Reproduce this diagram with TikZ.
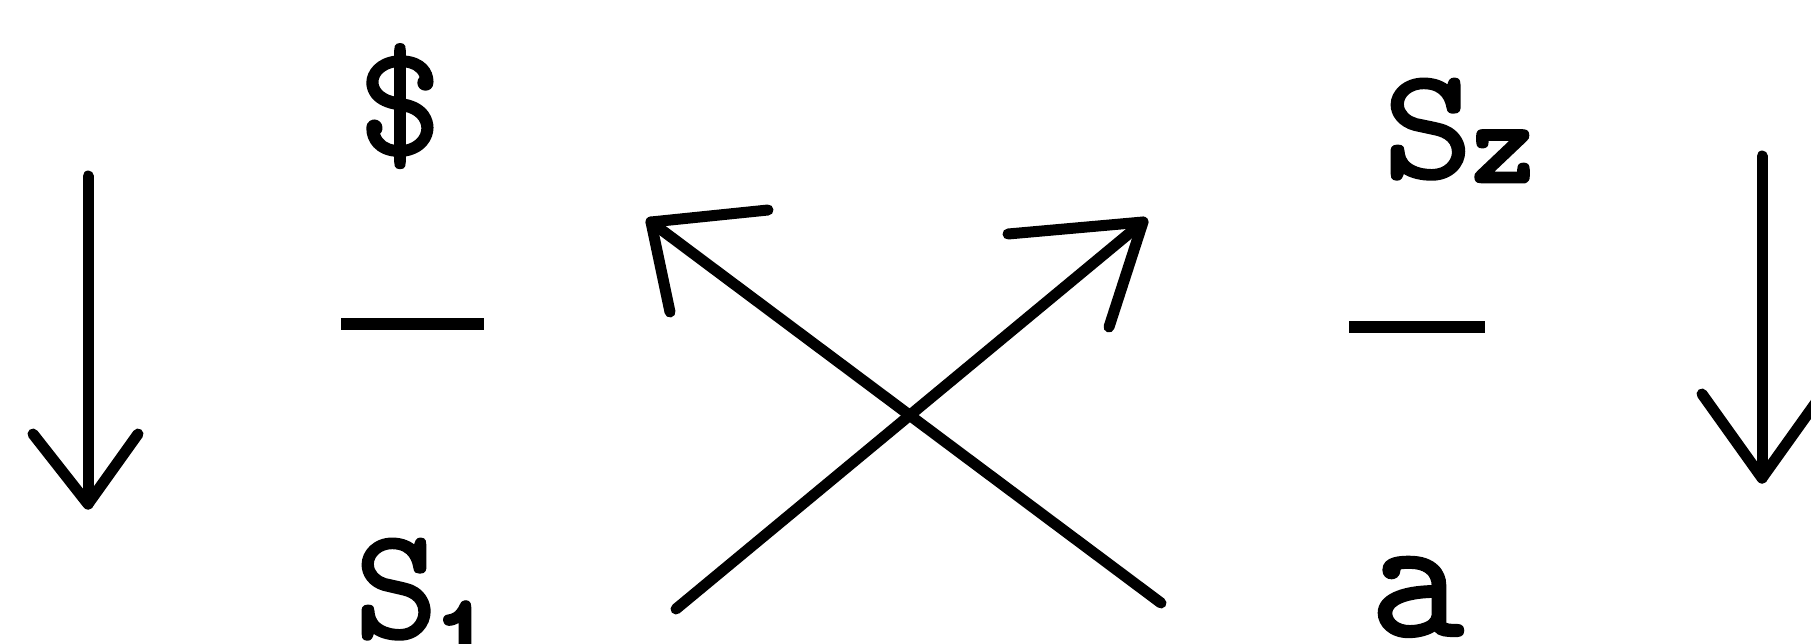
\documentclass[tikz,border=0pt]{standalone}
\usepackage{fontspec}
\newfontfamily\lblfont{lmmono10-regular.otf}[FakeBold=1.2]
\newfontfamily\heavyfont{lmmono10-regular.otf}[FakeBold=4]
\usetikzlibrary{calc}
\begin{document}
\begin{tikzpicture}[x=1pt,y=-1pt,line cap=round,line join=round]
\tikzset{
  stroke/.style={line width=11pt},
  dashbar/.style={line width=12pt,line cap=butt},
  lbl/.style={inner sep=0pt,anchor=base,font=\lblfont\fontsize{160}{160}\selectfont},
  heavy/.style={inner sep=0pt,anchor=base,font=\heavyfont\fontsize{115}{115}\selectfont},
}
\useasboundingbox (0,0) rectangle (1811,643);
% labels
\node[lbl] (dollar) at (400,155) {\$};
\node[lbl,anchor=base west] (s1) at (354,638)
  {S\hspace{-5pt}\raisebox{-36pt}{\heavyfont\fontsize{115}{115}\selectfont 1}};
\node[lbl,xscale=1.08] (s2) at (1428,178) {S};
\node[heavy] (z) at (1503,181) {z};
\node[lbl,font=\lblfont\fontsize{180}{180}\selectfont] (a) at (1417,636) {a};
% dashes
\draw[dashbar] (341,324) coordinate (d1a) -- (484,324) coordinate (d1b);
\draw[dashbar] (1349,327) coordinate (d2a) -- (1485,327) coordinate (d2b);
% left vertical arrow
\coordinate (la0) at (88,176);
\coordinate (la1) at (88,504);
\draw[stroke] (la0) -- (la1);
\draw[stroke] ($(la1)+(-55,-70)$) -- (la1) -- ($(la1)+(50,-70)$);
% right vertical arrow
\coordinate (ra0) at (1762,156);
\coordinate (ra1) at (1762,478);
\draw[stroke] (ra0) -- (ra1);
\draw[stroke] ($(ra1)+(-60,-84)$) -- (ra1) -- ($(ra1)+(60,-84)$);
% crossing arrows
\coordinate (xa0) at (676,609);
\coordinate (xa1) at (1143,222);
\coordinate (xb0) at (1161,603);
\coordinate (xb1) at (651,222);
\draw[stroke] (xa0) -- (xa1);
\draw[stroke] (1008,234) -- (xa1) -- (1109,327);
\draw[stroke] (xb0) -- (xb1);
\draw[stroke] (768,210) -- (xb1) -- (670,312);
\end{tikzpicture}
\end{document}
